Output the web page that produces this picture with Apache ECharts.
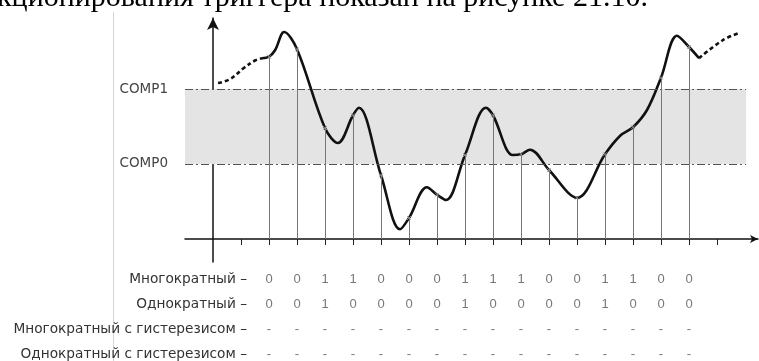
<!DOCTYPE html>
<html>
<head>
<meta charset="utf-8">
<script src="https://cdn.jsdelivr.net/npm/echarts@6/dist/echarts.min.js"></script>
<style>
  html, body { margin: 0; padding: 0; background: #fff; }
  #chart { width: 759px; height: 361px; }
</style>
</head>
<body>
<div id="chart"></div>
<script>
// Sampling instants (tick numbers on the time axis) and the signal value at each one.
// Comparator thresholds: COMP0 = 1, COMP1 = 2.
const tickValues = [1, 2, 3, 4, 5, 6, 7, 8, 9, 10, 11, 12, 13, 14, 15, 16, 17, 18];
const sampleX = [2, 3, 4, 5, 6, 7, 8, 9, 10, 11, 12, 13, 14, 15, 16, 17];
const sampleValues = [2.43, 2.53, 1.48, 1.65, 0.85, 0.28, 0.59, 1.12, 1.65, 1.13, 0.92, 0.55, 1.13, 1.49, 2.15, 2.56];

// Extra points that shape the signal between samples (peaks, troughs, shoulders).
const shapePoints = [
  [1.75, 2.41], [2.22, 2.52], [2.54, 2.76], [4.46, 1.28], [5.21, 1.75],
  [6.68, 0.13], [7.64, 0.69], [8.32, 0.52], [9.75, 1.75], [10.71, 1.12],
  [11.32, 1.19], [14.55, 1.38], [15.5, 1.72], [16.57, 2.71], [17.36, 2.41]
];
// Signal before the first and after the last observed sample (drawn dashed).
const leadPoints = [[0.18, 2.08], [0.6, 2.13], [1.1, 2.28], [1.5, 2.38], [1.75, 2.41]];
const tailPoints = [[17.36, 2.41], [18.2, 2.65], [18.82, 2.75]];

const thresholds = [
  { name: 'COMP1', value: 2 },
  { name: 'COMP0', value: 1 }
];

// Comparator outputs per sample.
const rowNames = ['Многократный', 'Однократный', 'Многократный с гистерезисом', 'Однократный с гистерезисом'];
const rowIndex = [0, 1, 2, 3];
const multiple = ['0', '0', '1', '1', '0', '0', '0', '1', '1', '1', '0', '0', '1', '1', '0', '0'];
const single = ['0', '0', '1', '0', '0', '0', '0', '1', '0', '0', '0', '0', '1', '0', '0', '0'];
const multipleHyst = ['-', '-', '-', '-', '-', '-', '-', '-', '-', '-', '-', '-', '-', '-', '-', '-'];
const singleHyst = ['-', '-', '-', '-', '-', '-', '-', '-', '-', '-', '-', '-', '-', '-', '-', '-'];

const captionText = 'кционирования триггера показан на рисунке 21.10.';

// ---- build series data ----
const solidCurve = sampleX.map((x, i) => [x, sampleValues[i]])
  .concat(shapePoints)
  .sort((a, b) => a[0] - b[0]);

const bandEnd = 19.04;
const sansFont = '"DejaVu Sans", Verdana, sans-serif';
const digitFont = '"Liberation Sans", Arial, sans-serif';

const sampleLines = sampleX.map((x, i) => [
  { coord: [x, 0] },
  { coord: [x, sampleValues[i]] }
]);

const thresholdLines = thresholds.map(t => [
  { coord: [-1, t.value], label: { formatter: t.name } },
  { coord: [bandEnd, t.value] }
]);

const rows = [multiple, single, multipleHyst, singleHyst];
const tableSeries = rows.map((row, r) => ({
  type: 'scatter',
  xAxisIndex: 1,
  yAxisIndex: 1,
  symbolSize: 1,
  itemStyle: { color: 'rgba(0,0,0,0)' },
  silent: true,
  data: row.map((v, i) => [sampleX[i], rowIndex[r], v]),
  label: {
    show: true,
    position: 'inside',
    formatter: p => p.data[2],
    color: '#555',
    fontFamily: digitFont,
    fontSize: 13
  }
}));

const chart = echarts.init(document.getElementById('chart'), null, { renderer: 'canvas' });

chart.setOption({
  animation: false,
  backgroundColor: '#fff',
  grid: [
    { left: 185, right: 1, top: 18, bottom: 99 },
    { left: 248, right: 1, top: 266, bottom: 0 }
  ],
  xAxis: [
    {
      type: 'value', gridIndex: 0, min: -1, max: 19.464,
      axisLine: {
        show: true, onZero: true,
        symbol: ['none', 'arrow'], symbolSize: [6, 8],
        lineStyle: { color: '#111', width: 1.5 }
      },
      axisTick: { show: true, customValues: tickValues, length: 6, lineStyle: { color: '#222', width: 1 } },
      axisLabel: { show: false },
      splitLine: { show: false }
    },
    {
      type: 'value', gridIndex: 1, min: 1.25, max: 19.464, show: false
    }
  ],
  yAxis: [
    {
      type: 'value', gridIndex: 0, min: -0.3067, max: 2.9467,
      axisLine: {
        show: true, onZero: true,
        symbol: ['none', 'arrow'], symbolSize: [9, 12],
        lineStyle: { color: '#111', width: 1.5 }
      },
      axisTick: { show: false },
      axisLabel: { show: false },
      splitLine: { show: false }
    },
    {
      // table rows: 25 px apart, first row centred 13 px below the grid top
      type: 'value', gridIndex: 1, inverse: true, min: -0.52, max: 3.28,
      axisLine: { show: false },
      axisTick: { show: false },
      axisLabel: {
        customValues: rowIndex,
        margin: 1, color: '#333', fontFamily: sansFont, fontSize: 13.7,
        formatter: v => rowNames[Math.round(v)] + ' –'
      },
      splitLine: { show: false }
    }
  ],
  graphic: [
    {
      type: 'text', x: -3, y: -2, silent: true,
      style: { text: captionText, font: '30px "Liberation Serif", "Times New Roman", serif', fill: '#000', verticalAlign: 'middle' }
    },
    {
      type: 'line', silent: true,
      shape: { x1: 113.5, y1: 12, x2: 113.5, y2: 361 },
      style: { stroke: '#d4d4d4', lineWidth: 1 }
    }
  ],
  series: [
    {
      // threshold window band and COMP lines
      type: 'line', data: [], silent: true,
      markArea: {
        silent: true,
        itemStyle: { color: '#e4e4e4' },
        data: [[{ coord: [-1, thresholds[1].value] }, { coord: [bandEnd, thresholds[0].value] }]]
      },
      markLine: {
        silent: true, symbol: 'none',
        lineStyle: { color: '#555', width: 1, type: [8, 3, 2, 3] },
        label: { position: 'start', distance: 17, color: '#444', fontFamily: sansFont, fontSize: 13.5 },
        data: thresholdLines
      }
    },
    {
      // sampling lines from the axis to the signal
      type: 'line', data: [], silent: true,
      markLine: {
        silent: true, symbol: 'none',
        lineStyle: { color: '#777', width: 1, type: 'solid' },
        label: { show: false },
        data: sampleLines
      }
    },
    {
      type: 'line', data: leadPoints, smooth: 0.4, symbol: 'none', silent: true,
      lineStyle: { color: '#111', width: 2.6, type: [4, 3] }
    },
    {
      type: 'line', data: solidCurve, smooth: 0.35, symbol: 'none', silent: true,
      lineStyle: { color: '#111', width: 2.6 }
    },
    {
      type: 'line', data: tailPoints, smooth: 0.4, symbol: 'none', silent: true,
      lineStyle: { color: '#111', width: 2.6, type: [4, 3] }
    },
    {
      // sample markers on the signal
      type: 'scatter', silent: true, z: 5,
      symbol: 'path://M0,0L10,10M10,0L0,10', symbolSize: 4,
      itemStyle: { color: 'none', borderColor: '#999', borderWidth: 1 },
      data: sampleX.map((x, i) => [x, sampleValues[i]])
    }
  ].concat(tableSeries)
});
</script>
</body>
</html>
